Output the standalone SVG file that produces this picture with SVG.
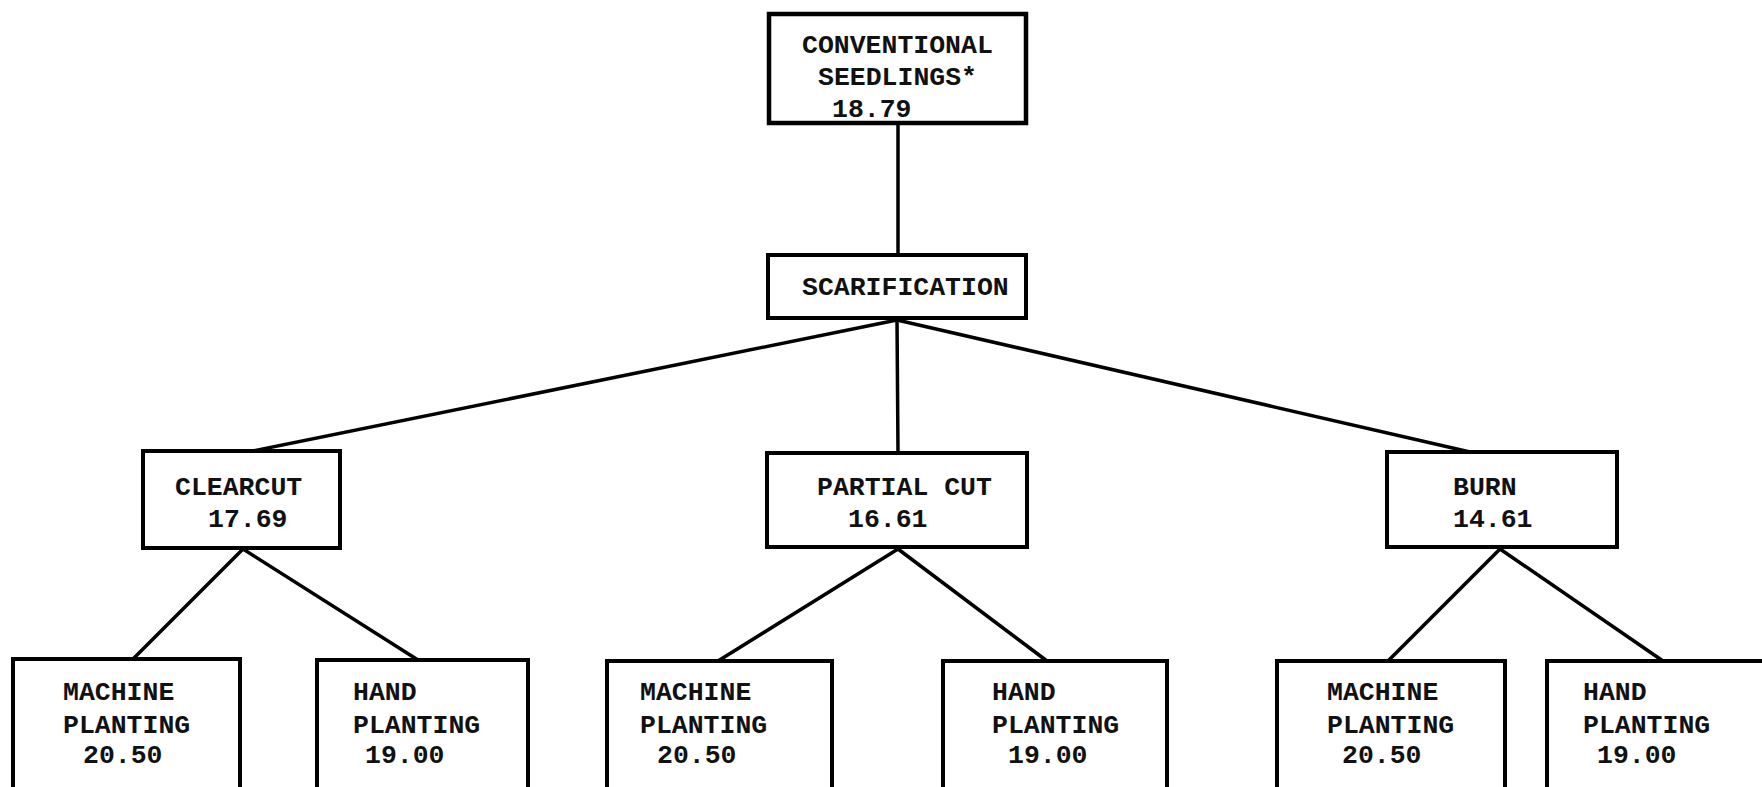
<svg xmlns="http://www.w3.org/2000/svg" width="1762" height="787" viewBox="0 0 1762 787">
<style>
rect{fill:#fff;stroke:#000;stroke-width:4}
text{font-family:"Liberation Mono","Courier New",monospace;font-size:26.5px;font-weight:bold;fill:#111}
.c line{stroke:#000;stroke-width:3.5;stroke-linecap:round}
</style>
<rect x="0" y="0" width="1762" height="787" style="fill:#fff;stroke:none"/>
<g class="c" id="connectors">
<line x1="898" y1="123" x2="898" y2="255"/>
<line x1="897" y1="320" x2="253" y2="451"/>
<line x1="897" y1="320" x2="898" y2="453"/>
<line x1="897" y1="320" x2="1470" y2="452"/>
<line x1="243" y1="549" x2="133" y2="659"/>
<line x1="243" y1="549" x2="418" y2="660"/>
<line x1="898" y1="549" x2="718" y2="661"/>
<line x1="898" y1="549" x2="1047" y2="661"/>
<line x1="1500" y1="549" x2="1388" y2="661"/>
<line x1="1500" y1="549" x2="1663" y2="661"/>
</g>
<g id="seedlings"><rect x="769" y="14" width="257" height="109" style="stroke-width:4.5"/>
<text x="802" y="53">CONVENTIONAL</text><text x="818" y="85">SEEDLINGS*</text><text x="832" y="117">18.79</text></g>
<g id="scarification"><rect x="768" y="255" width="258" height="63"/>
<text x="802" y="295">SCARIFICATION</text></g>
<g id="clearcut"><rect x="143" y="451" width="197" height="97"/>
<text x="175" y="495">CLEARCUT</text><text x="208" y="527">17.69</text></g>
<g id="partialcut"><rect x="767" y="453" width="260" height="94"/>
<text x="817" y="495">PARTIAL CUT</text><text x="848" y="527">16.61</text></g>
<g id="burn"><rect x="1387" y="452" width="230" height="95"/>
<text x="1453" y="495">BURN</text><text x="1453" y="527">14.61</text></g>
<g id="machine1"><rect x="13" y="659" width="227" height="140"/>
<text x="63" y="700">MACHINE</text><text x="63" y="733">PLANTING</text><text x="83" y="763">20.50</text></g>
<g id="hand1"><rect x="317" y="660" width="211" height="140"/>
<text x="353" y="700">HAND</text><text x="353" y="733">PLANTING</text><text x="365" y="763">19.00</text></g>
<g id="machine2"><rect x="607" y="661" width="225" height="140"/>
<text x="640" y="700">MACHINE</text><text x="640" y="733">PLANTING</text><text x="657" y="763">20.50</text></g>
<g id="hand2"><rect x="943" y="661" width="224" height="140"/>
<text x="992" y="700">HAND</text><text x="992" y="733">PLANTING</text><text x="1008" y="763">19.00</text></g>
<g id="machine3"><rect x="1277" y="661" width="228" height="140"/>
<text x="1327" y="700">MACHINE</text><text x="1327" y="733">PLANTING</text><text x="1342" y="763">20.50</text></g>
<g id="hand3"><rect x="1547" y="661" width="230" height="140"/>
<text x="1583" y="700">HAND</text><text x="1583" y="733">PLANTING</text><text x="1597" y="763">19.00</text></g>
</svg>
